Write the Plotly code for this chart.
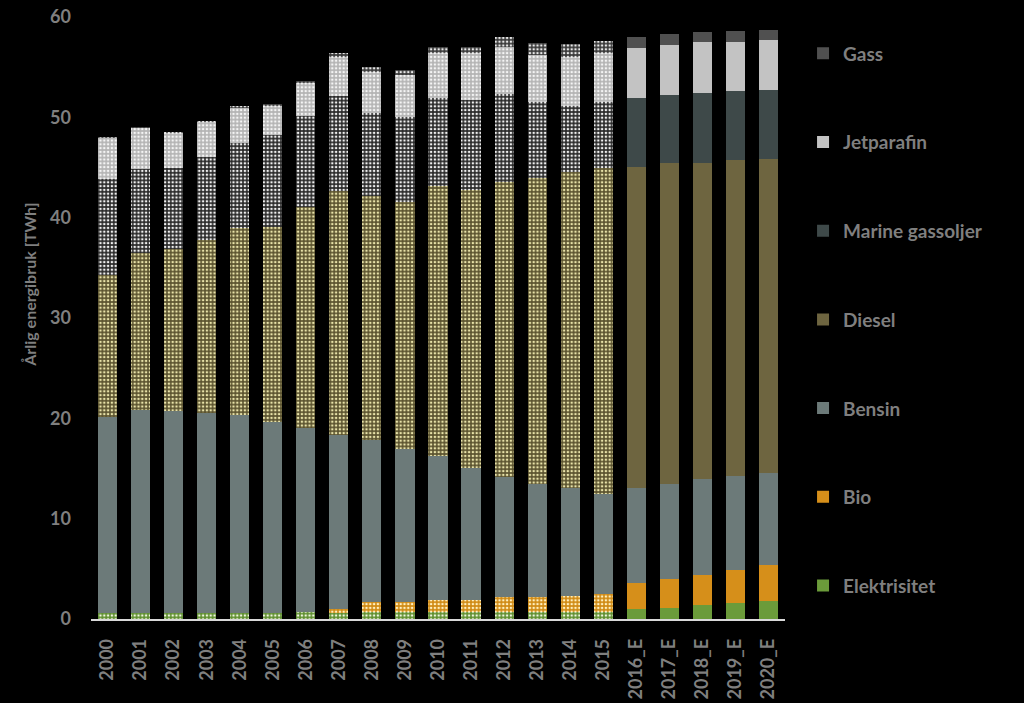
import plotly.graph_objects as go

years = ["2000", "2001", "2002", "2003", "2004", "2005", "2006", "2007", "2008", "2009",
         "2010", "2011", "2012", "2013", "2014", "2015",
         "2016_E", "2017_E", "2018_E", "2019_E", "2020_E"]

elektrisitet = [0.6, 0.6, 0.6, 0.6, 0.6, 0.6, 0.7, 0.6, 0.7, 0.7,
                0.7, 0.7, 0.7, 0.7, 0.7, 0.7, 0.96, 1.1, 1.4, 1.56, 1.8]
bio = [0, 0, 0, 0, 0, 0, 0, 0.4, 0.96, 1.03,
       1.2, 1.2, 1.46, 1.46, 1.6, 1.8, 2.6, 2.9, 3.0, 3.33, 3.55]
bensin = [19.57, 20.24, 20.14, 19.9, 19.74, 19.07, 18.3, 17.35, 16.19, 15.22,
          14.35, 13.2, 12.04, 11.34, 10.8, 10.0, 9.54, 9.5, 9.58, 9.41, 9.25]
diesel = [14.13, 15.66, 16.16, 17.3, 18.61, 19.43, 22.05, 24.35, 24.3, 24.6,
          26.95, 27.7, 29.4, 30.45, 31.45, 32.5, 32.0, 31.9, 31.5, 31.4, 31.2]
marine = [9.6, 8.4, 8.1, 8.2, 8.45, 9.1, 9.1, 9.44, 8.33, 8.53,
          8.7, 8.95, 8.7, 7.55, 6.55, 6.5, 6.8, 6.8, 6.9, 6.9, 6.9]
jetparafin = [4.05, 4.05, 3.45, 3.55, 3.6, 3.0, 3.3, 3.86, 4.0, 4.16,
              4.5, 4.65, 4.76, 4.7, 4.9, 4.9, 5.0, 5.0, 5.1, 4.9, 5.0]
gass = [0.05, 0.05, 0.05, 0.05, 0.1, 0.1, 0.1, 0.46, 0.53, 0.5,
        0.6, 0.66, 0.94, 1.2, 1.3, 1.2, 1.1, 1.1, 1.0, 1.1, 1.0]

n_hist = 16  # 2000-2015 measured (patterned), rest projected (solid)

series = [
    # name, values, projected colour, historical background, historical dot colour, patterned
    ("Elektrisitet", elektrisitet, "#6b9b3a", "#5f8f30", "#f0f5e0", True),
    ("Bio", bio, "#d68f1a", "#d08a14", "#fff0c0", True),
    ("Bensin", bensin, "#6c7a79", "#6c7a79", "#6c7a79", False),
    ("Diesel", diesel, "#6e6540", "#5c5430", "#e8e2a8", True),
    ("Marine gassoljer", marine, "#3e4949", "#2b2b2b", "#f0f0f0", True),
    ("Jetparafin", jetparafin, "#c3c3c3", "#b4b4b4", "#f4f4f4", True),
    ("Gass", gass, "#505050", "#3a3a3a", "#e8e8e8", True),
]

fig = go.Figure()
nser = len(series)
for i, (name, vals, col, hbg, hfg, patterned) in enumerate(series):
    rank = nser - i
    fig.add_trace(go.Bar(
        x=years[:n_hist], y=vals[:n_hist], name=name, legendgroup=name,
        showlegend=False, legendrank=rank,
        marker=dict(color=hbg, line=dict(width=0),
                    pattern=dict(shape="." if patterned else "", fgcolor=hfg,
                                 bgcolor=hbg, size=3.8, solidity=0.35,
                                 fillmode="replace")),
        hoverinfo="x+y+name",
    ))
    fig.add_trace(go.Bar(
        x=years[n_hist:], y=vals[n_hist:], name=name, legendgroup=name,
        showlegend=True, legendrank=rank,
        marker=dict(color=col, line=dict(width=0)),
        hoverinfo="x+y+name",
    ))

grey = "#7f7f7f"
fnt = "Lato"

fig.update_layout(
    barmode="stack",
    bargap=0.42,
    paper_bgcolor="#000000",
    plot_bgcolor="#000000",
    width=1024, height=703,
    margin=dict(l=91, r=239, t=17, b=84),
    font=dict(family=fnt, color=grey, size=16),
    legend=dict(
        traceorder="grouped",
        tracegroupgap=61,
        x=1.026, xanchor="left", y=0.971, yanchor="top",
        font=dict(family=fnt, size=19, color=grey, weight="bold"),
        itemwidth=30,
        bgcolor="rgba(0,0,0,0)",
    ),
    xaxis=dict(
        type="category",
        tickangle=-90,
        tickfont=dict(family=fnt, size=18, color=grey, weight="bold"),
        showline=True, linecolor="#d9d9d9", linewidth=1.5,
        showgrid=False, ticks="", zeroline=False,
        ticklabelstandoff=11, automargin=False,
    ),
    yaxis=dict(
        range=[0, 60], dtick=10,
        tickfont=dict(family=fnt, size=18, color=grey, weight="bold"),
        showgrid=False, zeroline=False, showline=False, ticks="",
        ticklabelstandoff=19, automargin=False,
    ),
    annotations=[dict(
        text="Årlig energibruk [TWh]", textangle=-90,
        xref="paper", yref="paper", x=-0.088, y=0.555,
        xanchor="center", yanchor="middle", showarrow=False,
        font=dict(family=fnt, size=16, color=grey, weight="bold"),
    )],
)

fig.write_html("out.html")
